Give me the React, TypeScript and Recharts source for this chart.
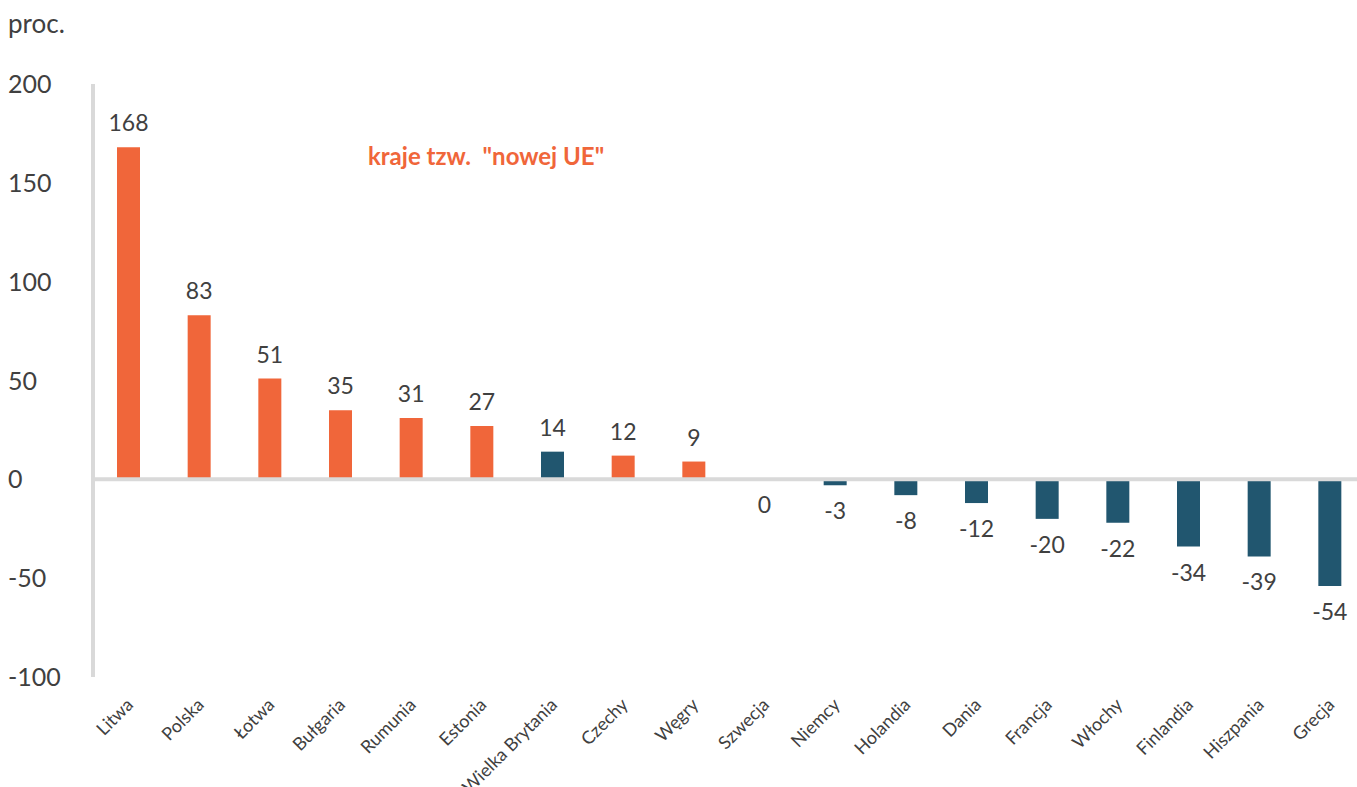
import React from 'react';
import { BarChart, Bar, XAxis, YAxis, Cell, LabelList, ReferenceLine, ReferenceDot } from 'recharts';

const countries = [
  'Litwa', 'Polska', 'Łotwa', 'Bułgaria', 'Rumunia', 'Estonia', 'Wielka Brytania', 'Czechy', 'Węgry',
  'Szwecja', 'Niemcy', 'Holandia', 'Dania', 'Francja', 'Włochy', 'Finlandia', 'Hiszpania', 'Grecja',
];
const changes = [168, 83, 51, 35, 31, 27, 14, 12, 9, 0, -3, -8, -12, -20, -22, -34, -39, -54];
const newEu = [true, true, true, true, true, true, false, true, true, false, false, false, false, false, false, false, false, false];
const yTicks = [-100, -50, 0, 50, 100, 150, 200];

const ORANGE = '#F0663A';
const NAVY = '#21566F';
const GREY = '#D9D9D9';
const INK = '#404040';
const FONT = 'Lato, sans-serif';

const data = countries.map((name, i) => ({ name, value: changes[i], newEu: newEu[i] }));

const YTick = (props: any) => {
  const { y, payload } = props;
  return (
    <text x={8} y={y} dy={9} textAnchor="start" fill={INK} fontSize={25} fontFamily={FONT}>
      {payload.value}
    </text>
  );
};

const XTick = (props: any) => {
  const { x, y, payload } = props;
  return (
    <g transform={`translate(${x + 6},${y + 21})`}>
      <text textAnchor="end" transform="rotate(-45)" fill={INK} fontSize={18} fontFamily={FONT}>
        {payload.value}
      </text>
    </g>
  );
};

const ValueLabel = (props: any) => {
  const { x, y, width, height, value } = props;
  const top = Math.min(y, y + height);
  const bottom = Math.max(y, y + height);
  const ly = value > 0 ? top - 16 : bottom + 34;
  return (
    <text x={x + width / 2} y={ly} textAnchor="middle" fill={INK} fontSize={23} fontFamily={FONT}>
      {value}
    </text>
  );
};

// bars of zero height get no LabelList entry, so draw their labels at the data point
const ZeroLabel = (props: any) => {
  const { cx, cy, value } = props;
  return (
    <text x={cx} y={cy + 34} textAnchor="middle" fill={INK} fontSize={23} fontFamily={FONT}>
      {value}
    </text>
  );
};

export default function App() {
  return (
    <div style={{ position: 'absolute', left: 0, top: 0, width: 1357, height: 787, overflow: 'hidden', background: '#fff' }}>
      <div style={{ position: 'absolute', left: 8, top: 7, fontFamily: FONT, fontSize: 26, color: INK }}>proc.</div>
      <BarChart
        width={1366}
        height={787}
        data={data}
        margin={{ top: 84, right: 1, left: 0, bottom: 0 }}
        barSize={23}
      >
        <YAxis
          domain={[-100, 200]}
          ticks={yTicks}
          width={93}
          axisLine={{ stroke: GREY, strokeWidth: 4 }}
          tickLine={false}
          tick={<YTick />}
          interval={0}
        />
        <XAxis
          dataKey="name"
          height={110}
          axisLine={false}
          tickLine={false}
          interval={0}
          tick={<XTick />}
        />
        <ReferenceLine y={0} stroke={GREY} strokeWidth={4} />
        <Bar dataKey="value" isAnimationActive={false}>
          {data.map((d, i) => (
            <Cell key={`c-${i}`} fill={d.newEu ? ORANGE : NAVY} />
          ))}
          <LabelList dataKey="value" content={<ValueLabel />} />
        </Bar>
        {data
          .filter((d) => d.value === 0)
          .map((d) => (
            <ReferenceDot
              key={`z-${d.name}`}
              x={d.name}
              y={d.value}
              r={0}
              fill="none"
              stroke="none"
              label={(p: any) => <ZeroLabel cx={p.viewBox.x + (p.viewBox.width || 0) / 2} cy={p.viewBox.y + (p.viewBox.height || 0) / 2} value={d.value} />}
            />
          ))}
        <text x={368} y={165} fill={ORANGE} fontSize={24} fontWeight={700} fontFamily={FONT}>
          kraje tzw.&nbsp; "nowej UE"
        </text>
      </BarChart>
    </div>
  );
}
